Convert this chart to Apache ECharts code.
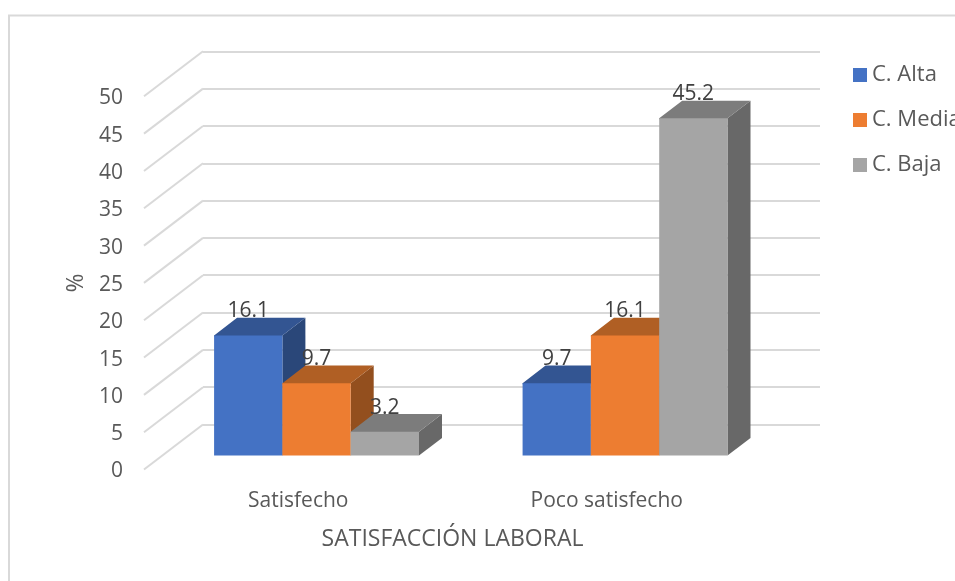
<!DOCTYPE html>
<html>
<head>
<meta charset="utf-8">
<style>html,body{margin:0;padding:0;background:#fff}#chart{width:955px;height:581px}</style>
<script src="https://cdn.jsdelivr.net/npm/echarts@6/dist/echarts.min.js"></script>
</head>
<body>
<div id="chart"></div>
<script>
const categories = ['Satisfecho', 'Poco satisfecho'];
const altaValues = [16.1, 9.7];
const mediaValues = [9.7, 16.1];
const bajaValues = [3.2, 45.2];
const wallTicks = [0, 5, 10, 15, 20, 25, 30, 35, 40, 45, 50];

const FONT = '"Open Sans", sans-serif';
const GRID_LINE = '#d9d9d9';
// Oblique projection of the chart floor: screen offset from front edge to back wall.
const DEPTH_X = 59, DEPTH_Y = 45;
const BAR_NEAR = 0.31, BAR_FAR = 0.70;
const BAR_SHARE = 0.2214;

const palettes = {
  alta:  { front: '#4472C4', top: '#335592', side: '#2A4779' },
  media: { front: '#ED7D31', top: '#B05F24', side: '#934F1E' },
  baja:  { front: '#A5A5A5', top: '#7C7C7C', side: '#686868' }
};

// One 3D column: front, top and right faces projected from the front plane.
// The top face runs a pixel under the front face so no seam shows between them.
function columnRenderer(slot, colors) {
  return function (params, api) {
    const band = api.size([1, 0])[0];
    const w = band * BAR_SHARE;
    const center = api.coord([api.value(0), 0]);
    const head = api.coord([api.value(0), api.value(1)]);
    const ox = DEPTH_X * BAR_NEAR, oy = -DEPTH_Y * BAR_NEAR;
    const dx = DEPTH_X * (BAR_FAR - BAR_NEAR), dy = -DEPTH_Y * (BAR_FAR - BAR_NEAR);
    const x0 = center[0] + ox + (slot - 1.5) * w;
    const x1 = x0 + w;
    const yb = center[1] + oy;
    const yt = head[1] + oy;
    return {
      type: 'group',
      children: [
        { type: 'polygon', shape: { points: [[x1, yb], [x1 + dx, yb + dy], [x1 + dx, yt + dy], [x1, yt]] }, style: { fill: colors.side } },
        { type: 'polygon', shape: { points: [[x0, yt + 1], [x0, yt], [x0 + dx, yt + dy], [x1 + dx, yt + dy], [x1, yt], [x1, yt + 1]] }, style: { fill: colors.top } },
        { type: 'rect', shape: { x: x0, y: yt, width: w, height: yb - yt }, style: { fill: colors.front } }
      ]
    };
  };
}

// Value label resting on the back edge of the column's top face.
function labelRenderer(slot) {
  return function (params, api) {
    const band = api.size([1, 0])[0];
    const w = band * BAR_SHARE;
    const center = api.coord([api.value(0), 0]);
    const head = api.coord([api.value(0), api.value(1)]);
    const x = center[0] + DEPTH_X * BAR_NEAR + (slot - 1) * w;
    const y = head[1] - DEPTH_Y * BAR_FAR;
    return {
      type: 'text',
      style: {
        x: x, y: y + 4,
        text: String(api.value(1)),
        align: 'center', verticalAlign: 'bottom',
        fill: '#404040', font: '21px ' + FONT
      }
    };
  };
}

function pairs(values) { return values.map((v, i) => [i, v]); }

function columnSeries(name, values, slot, colors) {
  return {
    name, type: 'custom', xAxisIndex: 1, yAxisIndex: 1, z: 3,
    itemStyle: { color: colors.front },
    renderItem: columnRenderer(slot, colors),
    data: pairs(values), clip: false
  };
}

function labelSeries(values, slot) {
  return {
    type: 'custom', xAxisIndex: 1, yAxisIndex: 1, z: 5, silent: true,
    renderItem: labelRenderer(slot), data: pairs(values), clip: false
  };
}

const chart = echarts.init(document.getElementById('chart'), null, { renderer: 'canvas' });
chart.setOption({
  animation: false,
  backgroundColor: '#fff',
  graphic: [{
    type: 'rect', z: -10, silent: true,
    shape: { x: 9, y: 15.5, width: 1000, height: 620 },
    style: { fill: '#fff', stroke: GRID_LINE, lineWidth: 2 }
  }],
  grid: [
    { left: 203, top: 51.3, width: 617, height: 373.2 },
    { left: 144, top: 96.3, width: 617, height: 373.2 }
  ],
  xAxis: [
    { gridIndex: 0, type: 'category', data: categories, show: false },
    {
      gridIndex: 1, type: 'category', data: categories,
      axisLine: { show: false }, axisTick: { show: false },
      axisLabel: { color: '#595959', fontFamily: FONT, fontSize: 21, margin: 21 },
      name: 'SATISFACCIÓN LABORAL', nameLocation: 'middle', nameGap: 58,
      nameTextStyle: { color: '#595959', fontFamily: FONT, fontSize: 23 }
    }
  ],
  yAxis: [
    {
      gridIndex: 0, type: 'value', min: 0, max: 50, interval: 5,
      axisLine: { show: false }, axisTick: { show: false }, axisLabel: { show: false },
      splitLine: { show: true, lineStyle: { color: GRID_LINE, width: 2 } }
    },
    {
      gridIndex: 1, type: 'value', min: 0, max: 50, interval: 5,
      axisLine: { show: false }, axisTick: { show: false },
      splitLine: { show: false },
      axisLabel: { color: '#595959', fontFamily: FONT, fontSize: 21, margin: 21, verticalAlign: 'top', lineHeight: 4 },
      name: '%', nameLocation: 'middle', nameRotate: 90, nameGap: 55,
      nameTextStyle: { color: '#595959', fontFamily: FONT, fontSize: 23 }
    }
  ],
  legend: {
    orient: 'vertical', left: 848, top: 59,
    itemWidth: 14, itemHeight: 14, itemGap: 23, icon: 'rect',
    selectedMode: false,
    data: ['C. Alta', 'C. Media', 'C. Baja'],
    textStyle: { color: '#595959', fontFamily: FONT, fontSize: 22 }
  },
  series: [
    {
      type: 'custom', xAxisIndex: 1, yAxisIndex: 1, z: 1, silent: true, clip: false,
      renderItem(params, api) {
        const y = api.coord([0, api.value(1)])[1];
        const x = params.coordSys.x;
        return {
          type: 'line',
          shape: { x1: x, y1: y, x2: x + DEPTH_X, y2: y - DEPTH_Y },
          style: { stroke: GRID_LINE, lineWidth: 2 }
        };
      },
      data: wallTicks.map(t => [0, t])
    },
    columnSeries('C. Alta', altaValues, 0, palettes.alta),
    columnSeries('C. Media', mediaValues, 1, palettes.media),
    columnSeries('C. Baja', bajaValues, 2, palettes.baja),
    labelSeries(altaValues, 0),
    labelSeries(mediaValues, 1),
    labelSeries(bajaValues, 2)
  ]
});
</script>
</body>
</html>
